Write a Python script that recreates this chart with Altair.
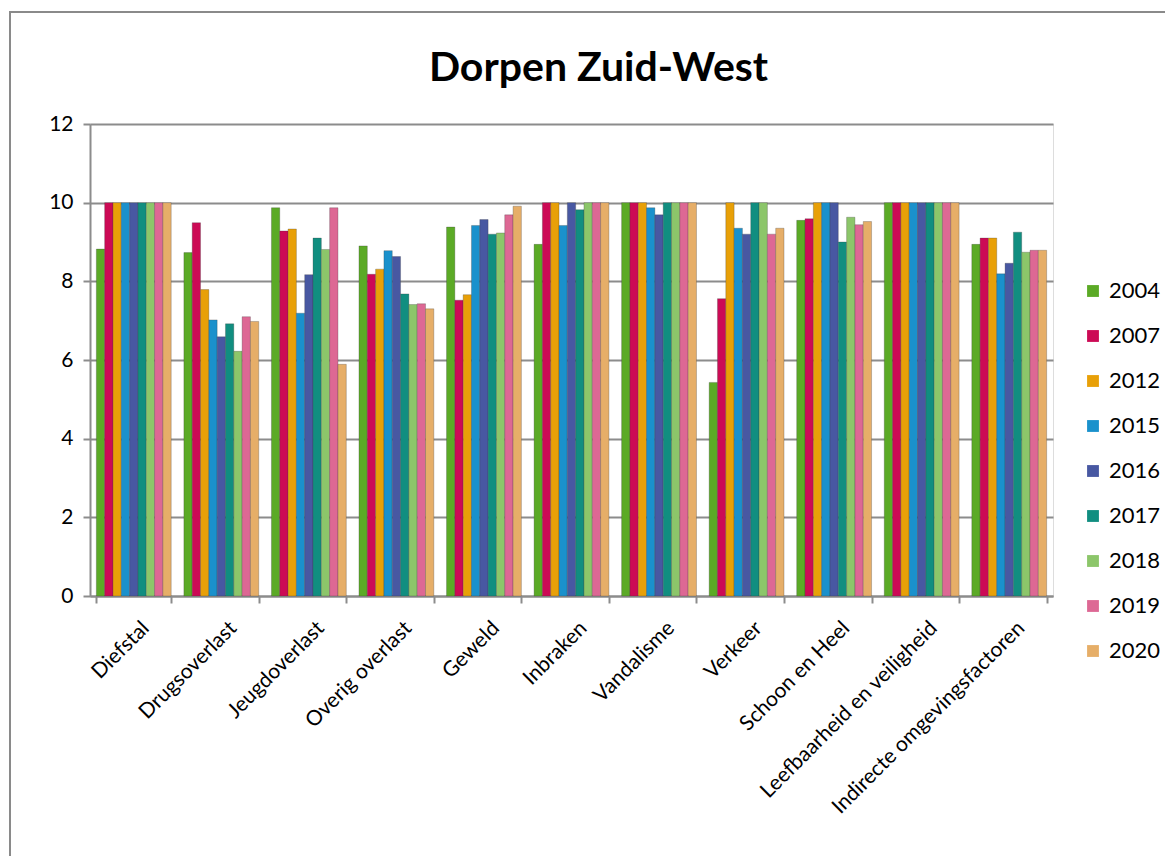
import altair as alt
import pandas as pd

categories = ["Diefstal", "Drugsoverlast", "Jeugdoverlast", "Overig overlast", "Geweld",
              "Inbraken", "Vandalisme", "Verkeer", "Schoon en Heel",
              "Leefbaarheid en veiligheid", "Indirecte omgevingsfactoren"]
years = ["2004", "2007", "2012", "2015", "2016", "2017", "2018", "2019", "2020"]

v2004 = [8.82, 8.73, 9.87, 8.90, 9.38, 8.94, 10.0, 5.43, 9.55, 10.0, 8.94]
v2007 = [10.0, 9.49, 9.28, 8.18, 7.52, 10.0, 10.0, 7.56, 9.59, 10.0, 9.10]
v2012 = [10.0, 7.79, 9.33, 8.31, 7.66, 10.0, 10.0, 10.0, 10.0, 10.0, 9.10]
v2015 = [10.0, 7.02, 7.19, 8.78, 9.42, 9.42, 9.87, 9.35, 10.0, 10.0, 8.19]
v2016 = [10.0, 6.59, 8.17, 8.63, 9.57, 10.0, 9.69, 9.20, 10.0, 10.0, 8.46]
v2017 = [10.0, 6.92, 9.10, 7.68, 9.20, 9.82, 10.0, 10.0, 9.00, 10.0, 9.25]
v2018 = [10.0, 6.22, 8.81, 7.41, 9.23, 10.0, 10.0, 10.0, 9.63, 10.0, 8.74]
v2019 = [10.0, 7.10, 9.87, 7.43, 9.69, 10.0, 10.0, 9.20, 9.44, 10.0, 8.79]
v2020 = [10.0, 6.98, 5.89, 7.30, 9.91, 10.0, 10.0, 9.35, 9.52, 10.0, 8.79]

series = [v2004, v2007, v2012, v2015, v2016, v2017, v2018, v2019, v2020]
colors = ["#5BAA26", "#CC0A55", "#E8A008", "#1A91CC", "#4858A2",
          "#118E80", "#8CC66A", "#DD6894", "#E6AE68"]

rows = []
for y, vals in zip(years, series):
    for c, v in zip(categories, vals):
        rows.append({"categorie": c, "jaar": y, "waarde": v})
df = pd.DataFrame(rows)

FONT = "Lato"
GRID = "#8C8C8C"

bars = alt.Chart(df).mark_bar(stroke="#3a3a3a", strokeOpacity=0.4, strokeWidth=0.7).encode(
    x=alt.X("categorie:N", sort=categories, title=None,
            scale=alt.Scale(paddingInner=0.145, paddingOuter=0.0725),
            axis=alt.Axis(labelAngle=-45, labelFontSize=21, labelFont=FONT, labelColor="#000",
                          tickBand="extent", tickColor=GRID, tickSize=7, tickWidth=2,
                          domainColor=GRID, domainWidth=2, labelPadding=14, labelOffset=4,
                          labelLimit=400)),
    xOffset=alt.XOffset("jaar:N", sort=years),
    y=alt.Y("waarde:Q", title=None, scale=alt.Scale(domain=[0, 12], nice=False),
            axis=alt.Axis(values=[0, 2, 4, 6, 8, 10, 12], labelFontSize=21, labelFont=FONT,
                          labelColor="#000", grid=True, gridColor=GRID, gridWidth=2,
                          tickColor=GRID, tickSize=7, tickWidth=2, domainColor=GRID,
                          domainWidth=2, labelPadding=10)),
    color=alt.Color("jaar:N", sort=years, scale=alt.Scale(domain=years, range=colors),
                    legend=alt.Legend(title=None, orient="none", legendX=992, legendY=156,
                                      symbolType="square", symbolSize=140, symbolStrokeWidth=0,
                                      labelFontSize=22, labelFont=FONT, labelColor="#000",
                                      rowPadding=23, labelOffset=5, padding=0)),
)

frame = alt.Chart(alt.Data(values=[{"a": 1}])).mark_rect(
    fill="transparent", stroke="#8A8A8A", strokeWidth=2).encode(
    x=alt.value(-80), x2=alt.value(3000), y=alt.value(-112), y2=alt.value(3000))

chart = alt.layer(bars, frame).properties(
    width=963, height=472,
    title=alt.TitleParams("Dorpen Zuid-West", fontSize=41, font=FONT, fontWeight="bold",
                          color="#000", anchor="middle", offset=-79, dx=27),
    autosize=alt.AutoSizeParams(type="none"),
    padding={"left": 82, "top": 116, "right": 112, "bottom": 260},
).configure_view(stroke=None).configure(background="white")

chart.save("out.html", embed_options={"renderer": "svg", "actions": False})
